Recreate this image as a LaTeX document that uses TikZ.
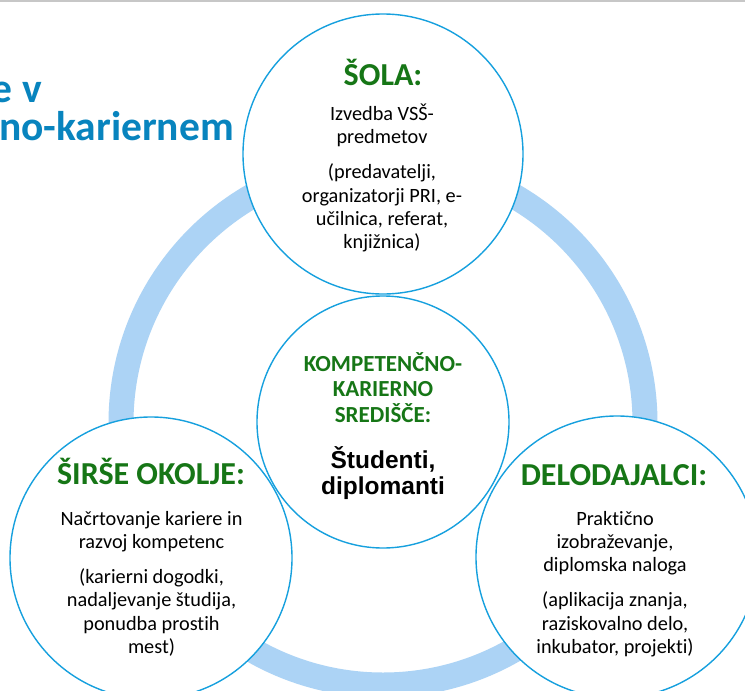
\documentclass[tikz,border=0pt]{standalone}
\usepackage{fontspec}
\setmainfont{Carlito}[Ligatures=NoCommon]
\newfontfamily\arialf{Liberation Sans}
\definecolor{ringblue}{RGB}{172,211,245}
\definecolor{lineblue}{RGB}{22,160,222}
\definecolor{hgreen}{RGB}{22,118,22}
\definecolor{titleblue}{RGB}{8,132,190}
\tikzset{
  bubble/.style={circle, fill=white, inner sep=0pt},
  rim/.style={draw=lineblue, line width=1.4pt},
  titletext/.style={font=\fontsize{41.5}{48}\selectfont\bfseries, text=titleblue, inner sep=0pt},
  headtext/.style={font=\fontsize{32}{38}\selectfont\bfseries, text=hgreen, inner sep=0pt, anchor=base},
  bodytext/.style={font=\fontsize{20.3}{23.3}\selectfont, align=center, inner sep=0pt, anchor=north},
  hubhead/.style={font=\fontsize{23}{25.8}\selectfont\bfseries, text=hgreen, align=center, inner sep=0pt, anchor=north},
  hubbody/.style={font=\arialf\fontsize{24.5}{24.5}\selectfont\bfseries, align=center, inner sep=0pt, anchor=north}
}
\begin{document}
\begin{tikzpicture}[x=1pt,y=-1pt]
\useasboundingbox (0,0) rectangle (745,691);
\clip (0,0) rectangle (745,691);
\fill[white] (0,0) rectangle (745,691);
\draw[black!22, line width=1.5pt] (0,0.75) -- (745,0.75);

% ring
\coordinate (hub) at (383,423);
\draw[ringblue, line width=25pt] (hub) circle[radius=262];

% bubbles (fills)
\node[bubble, minimum size=280pt] (sola) at (383,154) {};
\node[bubble, minimum size=252pt] (center) at (383,422) {};
\node[bubble, minimum size=282pt] (okolje) at (151,558) {};
\node[bubble, minimum size=282pt] (delo) at (617,557) {};

% outlines
\draw[rim] (sola.center) circle[radius=140];
\draw[rim] (center.center) circle[radius=126];
\draw[rim] (okolje.center) circle[radius=141];
\draw[rim] (delo.center) circle[radius=141];

% title fragments
\node[titletext, anchor=base east] (t1) at (42,102) {e v};
\node[titletext, anchor=base east] (t2) at (234,140) {no-kariernem};

% top
\node[headtext] (solah) at (383,85) {ŠOLA:};
\node[bodytext] (solab) at (382,103.7) {\strut Izvedba VSŠ-\\ predmetov\\[11.8pt] (predavatelji,\\ organizatorji PRI, e-\\ učilnica, referat,\\ knjižnica)};

% center
\node[hubhead] (centerh) at (383,351.9) {\strut KOMPETENČNO-\\ KARIERNO\\ SREDIŠČE:};
\node[hubbody] (centerb) at (383,445.9) {\strut Študenti,\\ diplomanti};

% left
\node[headtext] (okoljeh) at (151,484) {ŠIRŠE OKOLJE:};
\node[bodytext] (okoljeb) at (151.5,508.7) {\strut Načrtovanje kariere in\\ razvoj kompetenc\\[11.8pt] (karierni dogodki,\\ nadaljevanje študija,\\ ponudba prostih\\ mest)};

% right
\node[headtext] (deloh) at (614,485) {DELODAJALCI:};
\node[bodytext] (delob) at (615,508.7) {\strut Praktično\\ izobraževanje,\\ diplomska naloga\\[11.8pt] (aplikacija znanja,\\ raziskovalno delo,\\ inkubator, projekti)};
\end{tikzpicture}
\end{document}
